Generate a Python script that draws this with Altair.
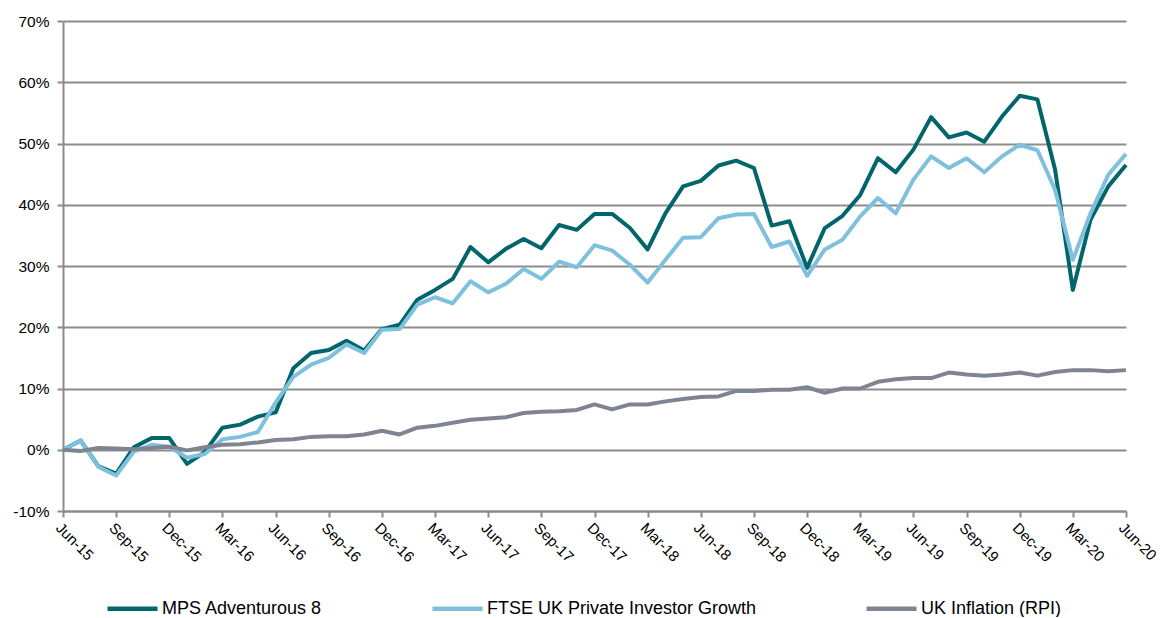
import altair as alt
import pandas as pd

# Quarterly tick labels (every 3 months from Jun-15)
tick_labels = ["Jun-15", "Sep-15", "Dec-15", "Mar-16", "Jun-16", "Sep-16", "Dec-16",
               "Mar-17", "Jun-17", "Sep-17", "Dec-17", "Mar-18", "Jun-18", "Sep-18",
               "Dec-18", "Mar-19", "Jun-19", "Sep-19", "Dec-19", "Mar-20", "Jun-20"]

series_names = ["MPS Adventurous 8", "FTSE UK Private Investor Growth", "UK Inflation (RPI)"]
series_colors = ["#00666B", "#7FC0DE", "#7E8591"]

mps = [0, 1.5, -2.7, -3.9, 0.4, 1.9, 1.9, -2.3, -0.4, 3.6, 4.1, 5.4, 6.1, 13.3, 15.8, 16.3,
       17.8, 16.2, 19.7, 20.4, 24.5, 26.1, 27.9, 33.1, 30.6, 32.8, 34.4, 32.9, 36.7, 35.9,
       38.5, 38.5, 36.2, 32.7, 38.6, 43.0, 43.9, 46.4, 47.2, 46.0, 36.6, 37.3, 29.7, 36.2,
       38.2, 41.6, 47.6, 45.3, 49.0, 54.3, 51.0, 51.8, 50.3, 54.4, 57.8, 57.2, 45.7, 26.1,
       37.6, 43.0, 46.5]
ftse = [0, 1.5, -2.8, -4.2, -0.3, 0.8, 0.5, -1.3, -0.7, 1.7, 2.1, 2.9, 7.7, 11.9, 13.9, 15.0,
        17.2, 15.8, 19.6, 19.7, 23.7, 24.9, 23.9, 27.5, 25.7, 27.1, 29.5, 27.9, 30.7, 29.8,
        33.4, 32.5, 30.2, 27.3, 31.0, 34.6, 34.7, 37.8, 38.4, 38.5, 33.1, 34.0, 28.4, 32.7,
        34.3, 38.1, 41.1, 38.6, 44.1, 47.9, 46.0, 47.6, 45.3, 47.9, 49.8, 48.9, 42.4, 31.0,
        38.6, 44.9, 48.3]
rpi = [0, -0.2, 0.3, 0.2, 0.1, 0.3, 0.5, -0.1, 0.4, 0.8, 0.9, 1.2, 1.6, 1.7, 2.1, 2.2,
       2.2, 2.5, 3.1, 2.5, 3.6, 3.9, 4.4, 4.9, 5.1, 5.3, 6.0, 6.2, 6.3, 6.5, 7.4, 6.6, 7.4,
       7.4, 7.9, 8.3, 8.6, 8.7, 9.6, 9.6, 9.8, 9.8, 10.2, 9.3, 10.0, 10.0, 11.1, 11.5, 11.7,
       11.7, 12.6, 12.3, 12.1, 12.3, 12.6, 12.1, 12.7, 13.0, 13.0, 12.8, 13.0]

rows = []
for name, vals in zip(series_names, [mps, ftse, rpi]):
    for i, v in enumerate(vals):
        rows.append({"m": i, "value": v, "series": name})
df = pd.DataFrame(rows)

label_arr = "[" + ",".join("'" + t + "'" for t in tick_labels) + "]"
FONT = "Liberation Sans"

x_enc = alt.X("m:Q",
              scale=alt.Scale(domain=[0, 60], nice=False, zero=False),
              axis=alt.Axis(values=list(range(0, 61, 3)),
                            labelExpr=label_arr + "[round(datum.value/3)]",
                            labelAngle=45, labelAlign="left", labelBaseline="top",
                            labelPadding=3, tickSize=6, grid=False, title=None,
                            labelFontSize=15, labelColor="#000000", labelFont=FONT,
                            domainColor="#8C8C8C", domainWidth=2,
                            tickColor="#8C8C8C", tickWidth=2, labelOverlap=False,
                            labelBound=False, labelFlush=False))
y_enc = alt.Y("value:Q",
              scale=alt.Scale(domain=[-10, 70], nice=False, zero=False),
              axis=alt.Axis(values=list(range(-10, 71, 10)),
                            labelExpr="datum.value + '%'",
                            tickSize=6, labelPadding=8, grid=True, title=None,
                            gridColor="#8C8C8C", gridWidth=2,
                            labelFontSize=15.5, labelColor="#000000", labelFont=FONT,
                            domainColor="#8C8C8C", domainWidth=2,
                            tickColor="#8C8C8C", tickWidth=2))
color_enc = alt.Color("series:N",
                      scale=alt.Scale(domain=series_names, range=series_colors),
                      sort=series_names,
                      legend=alt.Legend(title=None, orient="none", direction="horizontal",
                                        legendX=42, legendY=560,
                                        symbolType="stroke", symbolSize=2500,
                                        symbolStrokeWidth=4.5, labelFontSize=18,
                                        labelFont=FONT, labelColor="#000000",
                                        labelOffset=2, columnPadding=100, padding=0,
                                        labelLimit=500))

layers = []
for name in series_names:
    layers.append(
        alt.Chart(df).transform_filter(alt.datum.series == name)
        .mark_line(strokeWidth=4, strokeJoin="round")
        .encode(x=x_enc, y=y_enc, color=color_enc)
    )

chart = alt.layer(*layers).properties(
    width=1063, height=490,
    padding={"left": 55, "top": 13, "right": 36, "bottom": 106},
    autosize=alt.AutoSizeParams(type="none"),
    background="#FFFFFF",
).configure_view(stroke=None)

chart.save("out.html", embed_options={"renderer": "svg", "actions": False})
